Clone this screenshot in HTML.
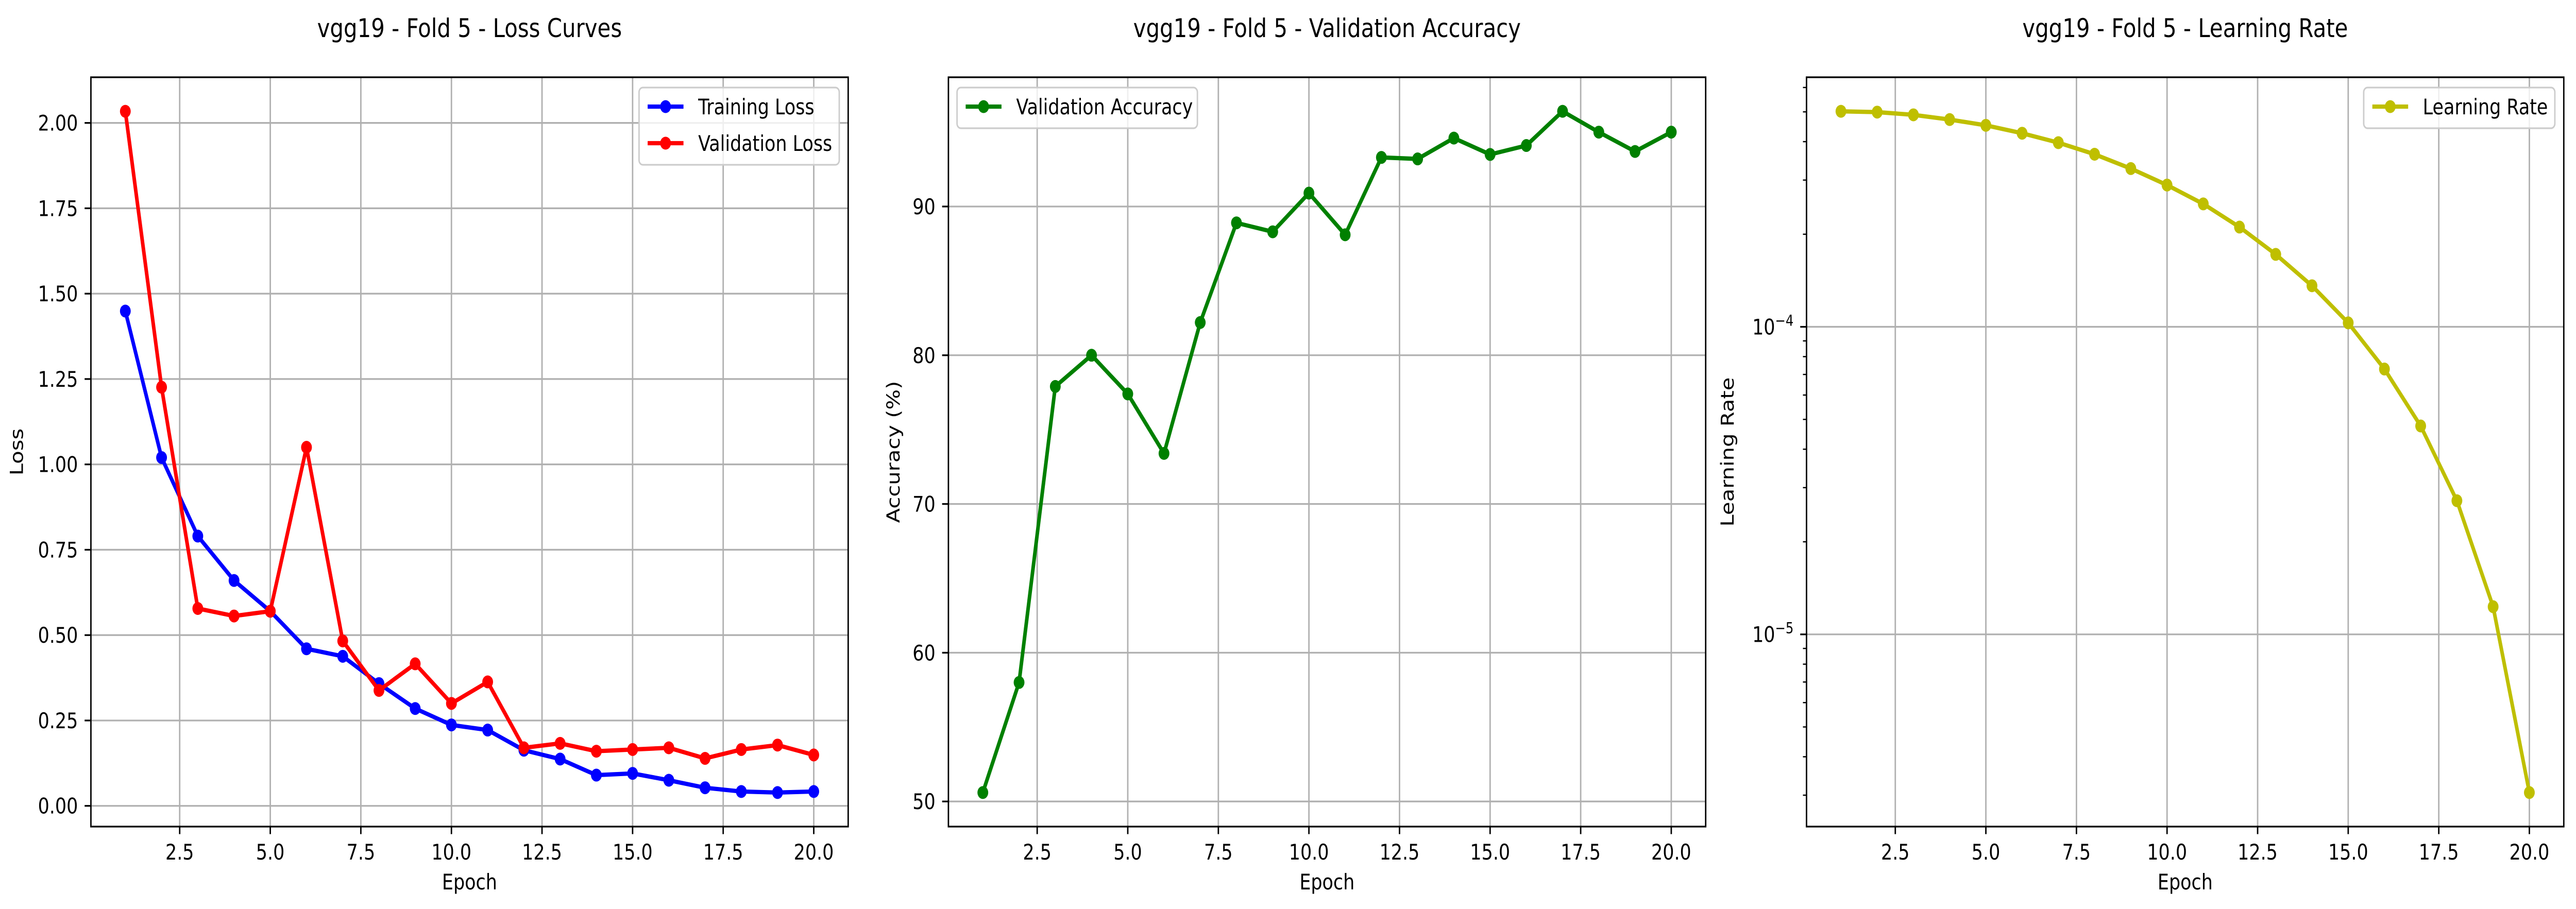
<!DOCTYPE html>
<html><head><meta charset="utf-8">
<style>
html,body{margin:0;padding:0;background:#fff;overflow:hidden;width:100%;height:100%;}
svg{display:block;width:100vw;height:100vh;font-family:"DejaVu Sans","Liberation Sans",sans-serif;}
</style></head>
<body>
<svg id="fig" viewBox="0 0 5970 1765" preserveAspectRatio="none" xmlns="http://www.w3.org/2000/svg"></svg>
<script>
const epochs = [1,2,3,4,5,6,7,8,9,10,11,12,13,14,15,16,17,18,19,20];
const trainLoss = [1.449,1.020,0.790,0.660,0.570,0.460,0.438,0.358,0.285,0.237,0.222,0.163,0.137,0.090,0.095,0.075,0.053,0.042,0.039,0.042];
const valLoss = [2.034,1.226,0.578,0.556,0.570,1.050,0.483,0.338,0.416,0.300,0.363,0.170,0.183,0.160,0.165,0.170,0.139,0.165,0.178,0.149];
const valAcc = [50.6,58.0,77.9,80.0,77.4,73.4,82.2,88.9,88.3,90.9,88.1,93.3,93.2,94.6,93.5,94.1,96.4,95.0,93.7,95.0];
const lrVals = [5.02e-4,4.99e-4,4.89e-4,4.72e-4,4.52e-4,4.26e-4,3.97e-4,3.64e-4,3.27e-4,2.89e-4,2.51e-4,2.11e-4,1.72e-4,1.36e-4,1.03e-4,7.29e-5,4.76e-5,2.72e-5,1.23e-5,3.06e-6];
const xTicks = [2.5,5.0,7.5,10.0,12.5,15.0,17.5,20.0];
const xTickLabels = ["2.5","5.0","7.5","10.0","12.5","15.0","17.5","20.0"];
const lossTicks = [0,0.25,0.5,0.75,1.0,1.25,1.5,1.75,2.0];
const lossTickLabels = ["0.00","0.25","0.50","0.75","1.00","1.25","1.50","1.75","2.00"];
const accTicks = [50,60,70,80,90];
const accTickLabels = ["50","60","70","80","90"];
const lrTickExps = [-4,-5];

const NS="http://www.w3.org/2000/svg";
const svg=document.getElementById('fig');
function el(tag,attrs,parent){const e=document.createElementNS(NS,tag);for(const k in attrs)e.setAttribute(k,attrs[k]);(parent||svg).appendChild(e);return e;}

const TOP=150,BOT=1605,W=1755;
const FS=41.7;
function xScaleFor(left){
  const lo=1-0.95,hi=20+0.95;
  return v=>left+(v-lo)/(hi-lo)*W;
}
function linY(minv,maxv){const m=(maxv-minv)*0.05;const lo=minv-m,hi=maxv+m;return v=>BOT-(v-lo)/(hi-lo)*(BOT-TOP);}
function logY(minv,maxv){const a=Math.log10(minv),b=Math.log10(maxv);const m=(b-a)*0.05;const lo=a-m,hi=b+m;return v=>BOT-(Math.log10(v)-lo)/(hi-lo)*(BOT-TOP);}

function panel(left,name,title,ylabel,ylabelX){
  const g=el('g',{});
  
  
  const t=el('text',{x:left+W/2,y:72,'font-size':50,'text-anchor':'middle',fill:'#000'},g);
  t.textContent=title;
  
  
  const yl=el('text',{x:ylabelX,y:(TOP+BOT)/2,'font-size':FS,'text-anchor':'middle',transform:`rotate(-90 ${ylabelX} ${(TOP+BOT)/2})`,fill:'#000'},g);
  yl.textContent=ylabel;
  
  
  const xl=el('text',{x:left+W/2,y:1727,'font-size':FS,'text-anchor':'middle',fill:'#000'},g);
  xl.textContent='Epoch';
  
  
  return g;
}

function xAxis(g,xs){
  xTicks.forEach((v,i)=>{
    const x=xs(v);
    const gl=el('line',{x1:x,x2:x,y1:TOP,y2:BOT,stroke:'#b0b0b0','stroke-width':3.3},g);
    
    
    el('line',{x1:x,x2:x,y1:BOT,y2:BOT+14.6,stroke:'#000','stroke-width':3.3},g);
    const t=el('text',{x:x,y:BOT+64,'font-size':FS,'text-anchor':'middle',fill:'#000'},g);
    t.textContent=xTickLabels[i];
    
    
  });
}
function yAxisLin(g,left,ys,ticks,labels){
  ticks.forEach((v,i)=>{
    const y=ys(v);
    const gl=el('line',{x1:left,x2:left+W,y1:y,y2:y,stroke:'#b0b0b0','stroke-width':3.3},g);
    
    
    el('line',{x1:left-14.6,x2:left,y1:y,y2:y,stroke:'#000','stroke-width':3.3},g);
    const t=el('text',{x:left-30,y:y+15,'font-size':FS,'text-anchor':'end',fill:'#000'},g);
    t.textContent=labels[i];
    
    
  });
}
function series(g,xs,ys,vals,color,name){
  const sg=el('g',{},g);
  
  
  const pts=vals.map((v,i)=>xs(epochs[i])+','+ys(v)).join(' ');
  el('polyline',{points:pts,fill:'none',stroke:color,'stroke-width':8.3,'stroke-linejoin':'round','stroke-linecap':'square'},sg);
  vals.forEach((v,i)=>{
    const c=el('circle',{cx:xs(epochs[i]),cy:ys(v),r:12.5,fill:color},sg);
    
    
  });
}
function spines(g,left){
  const r=el('rect',{x:left,y:TOP,width:W,height:BOT-TOP,fill:'none',stroke:'#000','stroke-width':3.3},g);
  
  
}
function legend(g,x0,y0,w,entries){
  const lg=el('g',{},g);
  
  
  const h=entries.length*71+8;
  el('rect',{x:x0,y:y0,width:w,height:h,rx:9,ry:9,fill:'#fff','fill-opacity':0.8,stroke:'#cccccc','stroke-width':3.3},lg);
  entries.forEach((e,i)=>{
    const cy=y0+37+i*71;
    const eg=el('g',{},lg);
    
    
    el('line',{x1:x0+20,x2:x0+103,y1:cy,y2:cy,stroke:e.c,'stroke-width':8.3},eg);
    el('circle',{cx:x0+61.5,cy:cy,r:12.5,fill:e.c},eg);
    const t=el('text',{x:x0+137,y:cy+15,'font-size':FS,fill:'#000'},eg);
    t.textContent=e.t;
  });
}

// Panel 1
{
  const left=210.7;
  const g=panel(left,'loss-curves-panel','vgg19 - Fold 5 - Loss Curves','Loss',53);
  const xs=xScaleFor(left);
  const all=trainLoss.concat(valLoss);
  const ys=linY(Math.min(...all),Math.max(...all));
  xAxis(g,xs);
  yAxisLin(g,left,ys,lossTicks,lossTickLabels);
  series(g,xs,ys,trainLoss,'#0000ff','training-loss-line');
  series(g,xs,ys,valLoss,'#ff0000','validation-loss-line');
  spines(g,left);
  legend(g,1481,170,464,[{t:'Training Loss',c:'#0000ff'},{t:'Validation Loss',c:'#ff0000'}]);
}
// Panel 2
{
  const left=2198;
  const g=panel(left,'validation-accuracy-panel','vgg19 - Fold 5 - Validation Accuracy','Accuracy (%)',2085);
  const xs=xScaleFor(left);
  const ys=linY(Math.min(...valAcc),Math.max(...valAcc));
  xAxis(g,xs);
  yAxisLin(g,left,ys,accTicks,accTickLabels);
  series(g,xs,ys,valAcc,'#008000','validation-accuracy-line');
  spines(g,left);
  legend(g,2218,170,557,[{t:'Validation Accuracy',c:'#008000'}]);
}
// Panel 3
{
  const left=4186.7;
  const g=panel(left,'learning-rate-panel','vgg19 - Fold 5 - Learning Rate','Learning Rate',4018);
  const xs=xScaleFor(left);
  const ys=logY(Math.min(...lrVals),Math.max(...lrVals));
  xAxis(g,xs);
  for(let e=-7;e<=-2;e++){for(let m=2;m<=9;m++){const v=m*Math.pow(10,e);const y=ys(v);if(y>TOP&&y<BOT){el('line',{x1:left-8.3,x2:left,y1:y,y2:y,stroke:'#000','stroke-width':2.5},g);}}}
  lrTickExps.forEach(e=>{
    const y=ys(Math.pow(10,e));
    if(y<TOP||y>BOT)return;
    const gl=el('line',{x1:left,x2:left+W,y1:y,y2:y,stroke:'#b0b0b0','stroke-width':3.3},g);
    
    
    el('line',{x1:left-14.6,x2:left,y1:y,y2:y,stroke:'#000','stroke-width':3.3},g);
    const t=el('text',{x:left-30,y:y+15,'font-size':FS,'text-anchor':'end',fill:'#000'},g);
    
    
    const b=el('tspan',{},t);b.textContent='10';
    const s=el('tspan',{dy:-17,'font-size':29},t);s.textContent='\u2212'+Math.abs(e);
  });
  series(g,xs,ys,lrVals,'#bfbf00','learning-rate-line');
  spines(g,left);
  legend(g,5478,170,443,[{t:'Learning Rate',c:'#bfbf00'}]);
}
</script>
</body></html>
